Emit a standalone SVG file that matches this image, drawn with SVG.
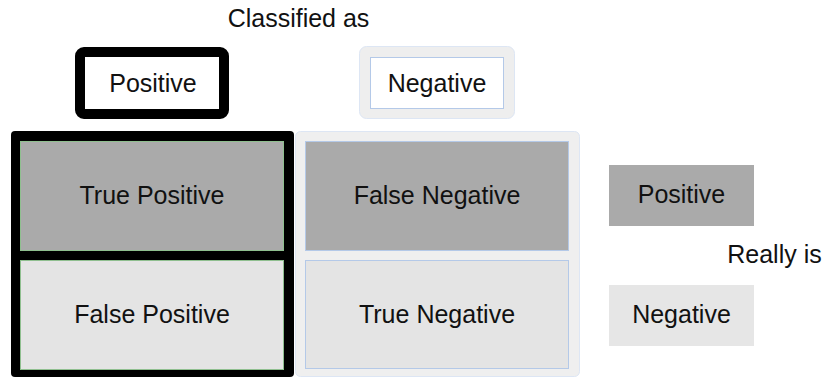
<svg xmlns="http://www.w3.org/2000/svg" width="824" height="378" viewBox="0 0 824 378">
<style>
text{font-family:"Liberation Sans",Arial,sans-serif;font-size:25px;fill:#111;text-anchor:middle}
.dark{fill:#aaaaaa}
.light{fill:#e4e4e4}
.cellL{stroke:#8fbf8f;stroke-width:1}
.cellR{stroke:#b4c9e8;stroke-width:1}
</style>
<rect width="824" height="378" fill="#ffffff"/>
<g id="title"><text x="298.5" y="27">Classified as</text></g>
<g id="classified-positive">
<rect x="80" y="52" width="144" height="62" rx="4" fill="#ffffff" stroke="#000" stroke-width="10"/>
<text x="153" y="92">Positive</text>
</g>
<g id="classified-negative">
<rect x="359.5" y="46.5" width="155" height="72" rx="7" fill="#eeeeee" stroke="#dde6f4" stroke-width="1"/>
<rect x="370.5" y="57.5" width="133" height="51" fill="#ffffff" stroke="#b4c9e8" stroke-width="1"/>
<text x="437" y="92">Negative</text>
</g>
<g id="column-positive">
<rect x="11" y="131" width="283" height="246" rx="4" fill="#000000"/>
</g>
<g id="column-negative">
<rect x="295.5" y="131.5" width="284" height="245" rx="5" fill="#efefef" stroke="#dde6f4" stroke-width="1"/>
</g>
<g id="true-positive">
<rect class="dark cellL" x="20.5" y="141.5" width="263" height="109"/>
<text x="152" y="204">True Positive</text>
</g>
<g id="false-positive">
<rect class="light cellL" x="20.5" y="260.5" width="263" height="109"/>
<text x="152" y="323">False Positive</text>
</g>
<g id="false-negative">
<rect class="dark cellR" x="305.5" y="141.5" width="263" height="109"/>
<text x="437" y="204">False Negative</text>
</g>
<g id="true-negative">
<rect class="light cellR" x="305.5" y="260.5" width="263" height="108"/>
<text x="437" y="323">True Negative</text>
</g>
<g id="really-positive">
<rect class="dark" x="609" y="165" width="145" height="61"/>
<text x="681.5" y="203">Positive</text>
</g>
<g id="really-is"><text x="774.5" y="263">Really is</text></g>
<g id="really-negative">
<rect x="609" y="285" width="145" height="61" fill="#e6e6e6"/>
<text x="681.5" y="323">Negative</text>
</g>
</svg>
